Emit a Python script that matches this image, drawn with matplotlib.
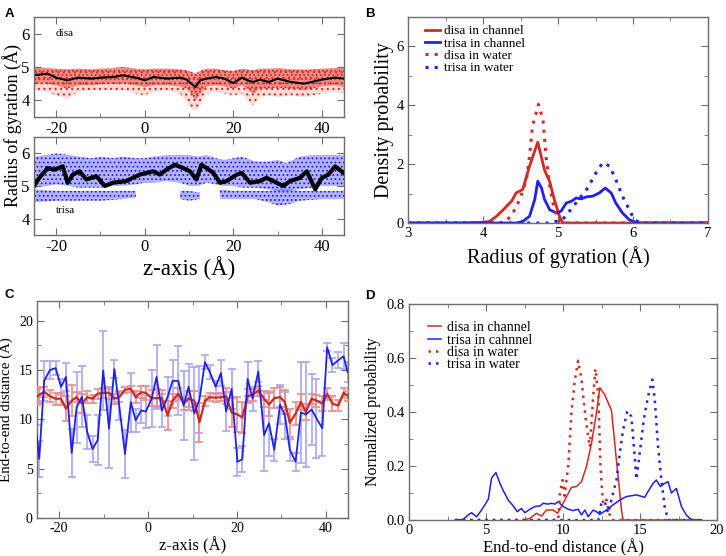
import matplotlib

matplotlib.use("Agg")

import matplotlib.pyplot as plt
from matplotlib.ticker import MultipleLocator

RED = "#d42a20"
BLUE = "#2020f0"
RED_LIGHT = "#ee8a86"
BLUE_LIGHT = "#a6a6ff"
FRAME = "#6e6e6e"

# ---- panel A: radius of gyration along z (running mean + spread of samples)
disa_z = [-25, -22, -20, -17.5, -15, -12, -10, -7, -5, -2, 0, 2, 5, 8, 9.5, 10.5,
          11.5, 12.5, 14, 16, 18, 20, 22, 23.5, 24.5, 26, 28, 30, 33, 36, 40, 43, 45]
disa_mean = [4.75, 4.8, 4.68, 4.6, 4.68, 4.65, 4.68, 4.7, 4.75, 4.68, 4.6, 4.7, 4.65,
             4.68, 4.62, 4.5, 4.4, 4.6, 4.65, 4.7, 4.65, 4.52, 4.68, 4.58, 4.55, 4.62,
             4.55, 4.65, 4.55, 4.5, 4.62, 4.68, 4.65]
disa_hi = [4.98, 4.97, 4.95, 4.93, 4.95, 4.93, 4.95, 4.97, 5.0, 4.95, 4.93, 4.95, 4.95,
           4.93, 4.9, 4.85, 4.8, 4.88, 4.95, 4.95, 4.9, 4.88, 4.95, 4.92, 4.9, 4.95,
           4.95, 4.97, 4.93, 4.92, 4.95, 4.97, 4.98]
disa_core_lo = [4.5, 4.5, 4.45, 4.35, 4.45, 4.45, 4.48, 4.5, 4.5, 4.45, 4.4, 4.45, 4.45,
                4.42, 4.35, 4.2, 4.0, 4.2, 4.42, 4.45, 4.42, 4.35, 4.45, 4.3, 4.2, 4.35,
                4.35, 4.38, 4.35, 4.3, 4.42, 4.45, 4.4]
disa_outer_lo = [4.3, 4.25, 4.15, 4.05, 4.25, 4.3, 4.3, 4.3, 4.3, 4.2, 4.15, 4.25, 4.3,
                 4.2, 3.95, 3.75, 3.7, 3.85, 4.2, 4.25, 4.2, 4.15, 4.2, 3.95, 3.85, 4.1,
                 4.15, 4.1, 4.15, 4.1, 4.2, 4.25, 4.2]

tri_z = [-25, -23.8, -21.9, -20.4, -18.5, -17.4, -16.2, -14.7, -13.2, -10.9, -9, -7.2,
         -4.2, -1.1, 1.9, 3.4, 4.9, 6.8, 8.7, 10.2, 11.7, 12.8, 14, 15.5, 17, 18.5, 20.8,
         21.9, 23.8, 26, 27.5, 29.8, 31.3, 32.8, 35.1, 36.6, 38.5, 40, 41.5, 43, 44.9]
tri_mean = [5.0, 5.25, 5.55, 5.5, 5.6, 5.1, 5.35, 5.45, 5.2, 5.3, 5.0, 5.1, 5.15, 5.35,
            5.45, 5.35, 5.5, 5.65, 5.55, 5.45, 5.2, 5.65, 5.55, 5.4, 5.1, 5.15, 5.35, 5.4,
            5.1, 5.15, 5.25, 5.1, 5.0, 5.15, 5.25, 5.45, 4.9, 5.25, 5.35, 5.6, 5.4]
tri_band_z = [-25, -22, -20, -17, -15, -12, -10, -7, -5, -2, 0, 2, 5, 8, 10, 12, 14, 16,
              18, 20, 22, 25, 28, 30, 32, 35, 38, 40, 43, 45]
tri_hi_top = [5.9, 5.95, 6.0, 5.95, 5.9, 5.85, 5.9, 5.85, 5.9, 5.85, 5.85, 5.9, 5.95,
              5.95, 5.95, 5.9, 5.95, 5.85, 5.8, 5.85, 5.9, 5.75, 5.75, 5.8, 5.7, 5.9,
              5.95, 5.95, 5.95, 5.95]
tri_hi_bot = [4.95, 5.0, 5.05, 5.0, 4.95, 4.95, 4.95, 5.0, 5.0, 5.05, 5.1, 5.1, 5.15,
              5.1, 5.0, 5.0, 5.1, 5.05, 5.0, 5.0, 4.95, 4.95, 4.9, 4.85, 4.85, 4.9,
              4.95, 5.0, 5.0, 5.0]
# lower (compact) conformer cluster, only present over some z ranges
tri_lo_z = [[-25, -20, -15, -10, -5, -2], [8, 10, 12.5],
            [17, 20, 25, 28, 30, 33, 35, 40, 45]]
tri_lo_top = [[4.9, 4.85, 4.85, 4.85, 4.85, 4.85], [4.85, 4.85, 4.8],
              [4.9, 4.85, 4.85, 4.85, 4.9, 4.9, 4.85, 4.85, 4.85]]
tri_lo_bot = [[4.5, 4.55, 4.55, 4.55, 4.6, 4.65], [4.6, 4.55, 4.6],
              [4.6, 4.6, 4.6, 4.5, 4.4, 4.45, 4.55, 4.6, 4.6]]

# ---- panel B: Rg distributions
rg_disa_ch_x = [3.0, 3.7, 3.9, 4.0, 4.09, 4.18, 4.27, 4.38, 4.44, 4.53, 4.62, 4.73, 4.82,
                4.89, 4.95, 5.02, 5.06, 5.1, 7.0]
rg_disa_ch_y = [0, 0.0, 0.02, 0.02, 0.06, 0.23, 0.45, 0.74, 1.02, 1.14, 1.93, 2.75, 1.8,
                1.4, 0.8, 0.23, 0.02, 0, 0]
rg_tri_ch_x = [3.0, 4.45, 4.53, 4.62, 4.69, 4.73, 4.78, 4.82, 4.89, 4.98, 5.04, 5.11,
               5.18, 5.24, 5.31, 5.38, 5.46, 5.55, 5.63, 5.71, 5.77, 5.86, 5.95, 6.04,
               6.1, 7.0]
rg_tri_ch_y = [0, 0, 0.05, 0.23, 0.8, 1.42, 1.19, 0.8, 0.45, 0.34, 0.4, 0.68, 0.74, 0.85,
               0.82, 0.89, 0.91, 1.02, 1.19, 1.02, 0.68, 0.34, 0.11, 0.02, 0, 0]
rg_disa_w_x = [3.0, 4.22, 4.31, 4.4, 4.49, 4.58, 4.62, 4.66, 4.74, 4.8, 4.84, 4.89, 4.95,
               5.02, 5.08, 7.0]
rg_disa_w_y = [0, 0, 0.06, 0.34, 0.8, 1.48, 2.27, 3.3, 4.03, 3.5, 2.27, 1.25, 0.45, 0.05,
               0, 0]
rg_tri_w_x = [3.0, 4.89, 5.06, 5.24, 5.38, 5.46, 5.53, 5.6, 5.69, 5.77, 5.86, 5.95, 6.02,
              6.1, 7.0]
rg_tri_w_y = [0, 0, 0.11, 0.68, 1.14, 1.48, 1.82, 2.05, 1.93, 1.48, 0.91, 0.45, 0.11, 0, 0]

# ---- panel C: end-to-end distance along z
ee_z = [-25.1, -24.5, -23.4, -22.1, -20.8, -19.6, -18.5, -17.2, -16.1, -14.9, -13.7,
        -12.5, -11.35, -10.1, -8.8, -7.6, -6.5, -5.2, -3.9, -2.8, -1.6, -0.5, 0.8, 1.9,
        3.1, 4.4, 5.5, 6.8, 8.0, 9.1, 10.4, 11.55, 12.8, 13.9, 15.2, 16.4, 17.55, 18.8,
        20.1, 21.2, 22.4, 23.5, 24.8, 26.1, 27.2, 28.4, 29.7, 30.8, 31.9, 33.2, 34.4,
        35.5, 36.8, 37.9, 39.2, 40.3, 41.5, 42.8, 44.0, 44.9]
ee_tri = [8.55, 6.0, 13.9, 15.0, 15.2, 13.3, 14.3, 6.6, 11.2, 12.3, 8.7, 7.0, 7.9, 14.95,
          9.06, 15.1, 11.4, 6.5, 11.75, 9.9, 10.9, 10.8, 12.1, 14.3, 10.9, 12.3, 13.9, 13.9,
          11.4, 13.3, 10.6, 12.0, 15.8, 14.8, 13.3, 14.7, 10.8, 13.1, 5.7, 5.96, 14.1, 12.1,
          14.85, 8.4, 9.6, 6.9, 11.5, 10.4, 6.9, 5.7, 10.7, 10.5, 11.0, 10.1, 9.1, 17.3,
          15.5, 16.0, 16.4, 14.8]
ee_tri_err = [0.9, 1.8, 2.0, 0.9, 0.7, 0.8, 1.4, 2.4, 3.6, 3.1, 1.7, 1.3, 2.5, 4.0, 4.0,
              0.9, 1.5, 2.4, 3.0, 1.2, 1.3, 1.7, 2.9, 3.2, 1.7, 2.0, 2.1, 3.5, 3.5, 2.3,
              4.7, 3.4, 0.7, 0.7, 0.6, 1.3, 2.0, 2.0, 1.4, 1.3, 1.7, 1.2, 1.1, 3.6, 3.3,
              1.1, 2.0, 2.4, 1.1, 0.9, 5.1, 5.3, 3.6, 4.0, 2.8, 0.4, 0.7, 0.8, 1.3, 1.0]
ee_disa = [12.25, 12.5, 12.8, 12.35, 12.1, 12.1, 11.1, 11.9, 12.25, 11.6, 12.25, 12.1,
           12.6, 12.7, 12.7, 12.1, 12.25, 13.0, 13.1, 12.25, 12.75, 12.7, 12.15, 12.15,
           12.15, 10.4, 11.9, 12.6, 11.6, 12.1, 11.9, 9.7, 11.9, 12.25, 12.2, 12.25, 12.35,
           10.7, 10.5, 10.2, 12.35, 12.5, 12.9, 12.1, 11.5, 12.15, 12.25, 11.75, 9.65,
           10.6, 11.75, 10.75, 12.1, 11.9, 11.6, 12.6, 11.6, 11.4, 12.7, 12.4]
ee_disa_err = [0.8, 0.8, 0.5, 0.6, 0.6, 0.6, 1.3, 1.6, 0.5, 1.0, 0.6, 0.4, 0.5, 0.5, 0.6,
               0.5, 0.5, 0.3, 0.3, 0.6, 0.6, 0.7, 0.8, 0.9, 0.8, 1.5, 0.7, 0.6, 0.6, 0.8,
               1.0, 2.0, 0.5, 0.4, 0.4, 0.4, 0.8, 1.5, 1.8, 1.6, 0.7, 0.6, 0.5, 0.8, 1.2,
               1.0, 1.0, 1.2, 1.4, 1.2, 0.8, 0.8, 0.5, 0.6, 0.8, 0.6, 0.8, 0.6, 0.5, 0.5]

# ---- panel D: end-to-end distance distributions
d_disa_ch_x = [7.42, 7.85, 8.28, 8.6, 8.93, 9.36, 9.64, 9.9, 10.23, 10.55, 10.88, 11.2,
               11.52, 11.85, 12.17, 12.39, 12.71, 13.15, 13.47, 13.8, 13.9, 19.0]
d_disa_ch_y = [0, 0.006, 0.025, 0.015, 0.037, 0.037, 0.025, 0.05, 0.087, 0.121, 0.124,
               0.142, 0.198, 0.284, 0.396, 0.49, 0.464, 0.405, 0.22, 0.037, 0, 0]
d_tri_ch_x = [2.98, 3.52, 3.85, 4.06, 4.39, 4.71, 5.15, 5.36, 5.64, 5.9, 6.12, 6.44, 6.77,
              7.03, 7.3, 7.52, 7.85, 8.17, 8.5, 8.71, 9.04, 9.25, 9.47, 9.69, 10.01, 10.34,
              10.66, 10.98, 11.2, 11.42, 11.63, 11.96, 12.17, 12.39, 12.82, 13.25, 13.69,
              14.12, 14.77, 15.3, 15.58, 15.85, 16.06, 16.32, 16.6, 16.82, 17.04, 17.36,
              17.69, 18.0, 18.3, 18.66, 19.0]
d_tri_ch_y = [0, 0.0025, 0.019, 0.027, 0.012, 0.037, 0.077, 0.155, 0.176, 0.136, 0.109,
              0.074, 0.052, 0.031, 0.043, 0.027, 0.04, 0.05, 0.052, 0.062, 0.059, 0.062,
              0.059, 0.068, 0.05, 0.04, 0.035, 0.04, 0.019, 0.037, 0.012, 0.037, 0.031,
              0.021, 0.037, 0.056, 0.074, 0.087, 0.093, 0.084, 0.111, 0.136, 0.148, 0.124,
              0.136, 0.142, 0.1, 0.117, 0.05, 0.019, 0.0025, 0, 0]
d_disa_w_x = [3.0, 9.69, 9.8, 9.97, 10.1, 10.34, 10.55, 10.77, 10.98, 11.2, 11.48, 11.74,
              11.96, 12.1, 12.3, 12.43, 12.6, 12.82, 13.0, 13.15, 19.0]
d_disa_w_y = [0, 0, 0.1, 0.148, 0.09, 0.2, 0.4, 0.52, 0.59, 0.52, 0.37, 0.27, 0.457, 0.56,
              0.457, 0.2, 0.06, 0.075, 0.025, 0, 0]
d_tri_w_x = [3.0, 12.3, 12.5, 12.71, 12.93, 13.25, 13.47, 13.69, 13.9, 14.18, 14.44, 14.6,
             14.77, 14.98, 15.24, 15.52, 15.8, 15.96, 16.17, 16.39, 16.6, 16.82, 19.0]
d_tri_w_y = [0, 0, 0.064, 0.068, 0.025, 0.1, 0.148, 0.247, 0.334, 0.404, 0.383, 0.272,
             0.151, 0.247, 0.371, 0.457, 0.52, 0.445, 0.272, 0.148, 0.05, 0, 0]

DOT = (0, (1, 2))


def setup_style():
    plt.rcParams.update({
        "font.family": ["Liberation Serif", "DejaVu Serif"],
        "axes.unicode_minus": False,
        "axes.edgecolor": FRAME,
        "axes.linewidth": 1.0,
        "xtick.color": FRAME,
        "ytick.color": FRAME,
        "xtick.labelcolor": "black",
        "ytick.labelcolor": "black",
        "xtick.direction": "in",
        "ytick.direction": "in",
        "xtick.top": True,
        "ytick.right": True,
        "xtick.major.size": 5,
        "ytick.major.size": 5,
        "xtick.minor.size": 3,
        "ytick.minor.size": 3,
        "hatch.linewidth": 0.8,
    })


def style_ticks(ax, size):
    ax.tick_params(which="both", labelsize=size, pad=3)
    ax.tick_params(which="minor", direction="in", top=True, right=True)


def draw_a(ax_top, ax_bot):
    ax_top.fill_between(disa_z, disa_outer_lo, disa_hi, facecolor=(0.85, 0.2, 0.15, 0.18),
                        edgecolor=RED, hatch="...", linewidth=0)
    ax_top.fill_between(disa_z, disa_core_lo, disa_hi, facecolor=(0.85, 0.2, 0.15, 0.45),
                        edgecolor=RED, hatch="....", linewidth=0)
    ax_top.plot(disa_z, disa_mean, color="black", lw=1.5)
    ax_top.text(-20, 6.0, "disa", fontsize=8, va="center")

    ax_bot.fill_between(tri_band_z, tri_hi_bot, tri_hi_top, facecolor=(0.15, 0.15, 1.0, 0.35),
                        edgecolor=BLUE, hatch="....", linewidth=0)
    for zs, top, bot in zip(tri_lo_z, tri_lo_top, tri_lo_bot):
        ax_bot.fill_between(zs, bot, top, facecolor=(0.15, 0.15, 1.0, 0.35),
                            edgecolor=BLUE, hatch="....", linewidth=0)
    ax_bot.plot(tri_z, tri_mean, color="black", lw=3)
    ax_bot.text(-20, 4.25, "trisa", fontsize=8, va="center")

    for ax in (ax_top, ax_bot):
        ax.set_xlim(-25, 45)
        ax.set_ylim(3.5, 6.5)
        ax.xaxis.set_major_locator(MultipleLocator(20))
        ax.xaxis.set_minor_locator(MultipleLocator(10))
        ax.yaxis.set_major_locator(MultipleLocator(1))
        style_ticks(ax, 12)
    ax_bot.set_xlabel("z-axis (Å)", fontsize=16.5, labelpad=1)


def draw_b(ax):
    ax.plot(rg_disa_ch_x, rg_disa_ch_y, color=RED, lw=2, label="disa in channel")
    ax.plot(rg_tri_ch_x, rg_tri_ch_y, color=BLUE, lw=2, label="trisa in channel")
    ax.plot(rg_disa_w_x, rg_disa_w_y, color=RED, lw=2.2, ls=DOT, label="disa in water")
    ax.plot(rg_tri_w_x, rg_tri_w_y, color=BLUE, lw=2.2, ls=DOT, label="trisa in water")
    ax.set_xlim(3, 7)
    ax.set_ylim(0, 7)
    ax.xaxis.set_major_locator(MultipleLocator(1))
    ax.xaxis.set_minor_locator(MultipleLocator(0.5))
    ax.yaxis.set_major_locator(MultipleLocator(2))
    ax.yaxis.set_minor_locator(MultipleLocator(1))
    style_ticks(ax, 10.5)
    ax.set_xlabel("Radius of gyration (Å)", fontsize=14.5, labelpad=4)
    ax.set_ylabel("Density probability", fontsize=14.5, labelpad=2)
    ax.legend(loc="upper left", bbox_to_anchor=(0.055, 0.96), frameon=False, fontsize=9.5,
              handlelength=1.15, handletextpad=0.3, labelspacing=0.0, borderpad=0,
              borderaxespad=0)


def draw_c(ax):
    ax.errorbar(ee_z, ee_tri, yerr=ee_tri_err, fmt="none", ecolor=BLUE_LIGHT,
                elinewidth=1.2, capsize=3, capthick=1.2, zorder=2)
    ax.errorbar(ee_z, ee_disa, yerr=ee_disa_err, fmt="none", ecolor=RED_LIGHT,
                elinewidth=1.2, capsize=3, capthick=1.2, zorder=3)
    ax.plot(ee_z, ee_disa, color="#cc2a1e", lw=1.6, zorder=4)
    ax.plot(ee_z, ee_tri, color=BLUE, lw=1.3, zorder=5)
    ax.set_xlim(-25, 45)
    ax.set_ylim(0, 22)
    ax.xaxis.set_major_locator(MultipleLocator(20))
    ax.xaxis.set_minor_locator(MultipleLocator(10))
    ax.yaxis.set_major_locator(MultipleLocator(5))
    ax.yaxis.set_minor_locator(MultipleLocator(2.5))
    style_ticks(ax, 10)
    ax.set_xlabel("z-axis (Å)", fontsize=12, labelpad=1)
    ax.set_ylabel("End-to-end distance (Å)", fontsize=10.8, labelpad=4)


def draw_d(ax):
    ax.plot(d_disa_ch_x, d_disa_ch_y, color=RED, lw=1.1, label="disa in channel")
    ax.plot(d_tri_ch_x, d_tri_ch_y, color=BLUE, lw=1.1, label="trisa in cahnnel")
    ax.plot(d_disa_w_x, d_disa_w_y, color=RED, lw=1.8, ls=DOT, label="disa in water")
    ax.plot(d_tri_w_x, d_tri_w_y, color=BLUE, lw=1.8, ls=DOT, label="trisa in water")
    ax.set_xlim(0, 20)
    ax.set_ylim(0, 0.8)
    ax.xaxis.set_major_locator(MultipleLocator(5))
    ax.xaxis.set_minor_locator(MultipleLocator(2.5))
    ax.yaxis.set_major_locator(MultipleLocator(0.2))
    ax.yaxis.set_minor_locator(MultipleLocator(0.1))
    style_ticks(ax, 10.5)
    ax.set_xlabel("End-to-end distance (Å)", fontsize=12, labelpad=1)
    ax.set_ylabel("Normalized probability", fontsize=11.4, labelpad=4)
    ax.legend(loc="upper left", bbox_to_anchor=(0.06, 0.92), frameon=False, fontsize=10,
              handlelength=1.0, handletextpad=0.4, labelspacing=-0.05, borderpad=0,
              borderaxespad=0)


def main():
    setup_style()
    fig = plt.figure(figsize=(7.26, 5.56), dpi=100)
    ax_a1 = fig.add_axes([0.0468, 0.7896, 0.427, 0.1799])
    ax_a2 = fig.add_axes([0.0468, 0.5773, 0.427, 0.1763])
    ax_b = fig.add_axes([0.562, 0.5989, 0.4132, 0.3705])
    ax_c = fig.add_axes([0.051, 0.0683, 0.4284, 0.3903])
    ax_d = fig.add_axes([0.5634, 0.0647, 0.4242, 0.3885])

    draw_a(ax_a1, ax_a2)
    draw_b(ax_b)
    draw_c(ax_c)
    draw_d(ax_d)

    fig.text(0.017, 0.775, "Radius of gyration (Å)", rotation=90, fontsize=13,
             ha="center", va="center")

    for label, x, y in (("A", 0.006, 0.985), ("B", 0.503, 0.985),
                        ("C", 0.006, 0.481), ("D", 0.503, 0.479)):
        fig.text(x, y, label, fontsize=9.5, fontweight="bold", family="Liberation Sans",
                 ha="left", va="top")

    fig.savefig("out.png", dpi=100)


if __name__ == "__main__":
    main()
